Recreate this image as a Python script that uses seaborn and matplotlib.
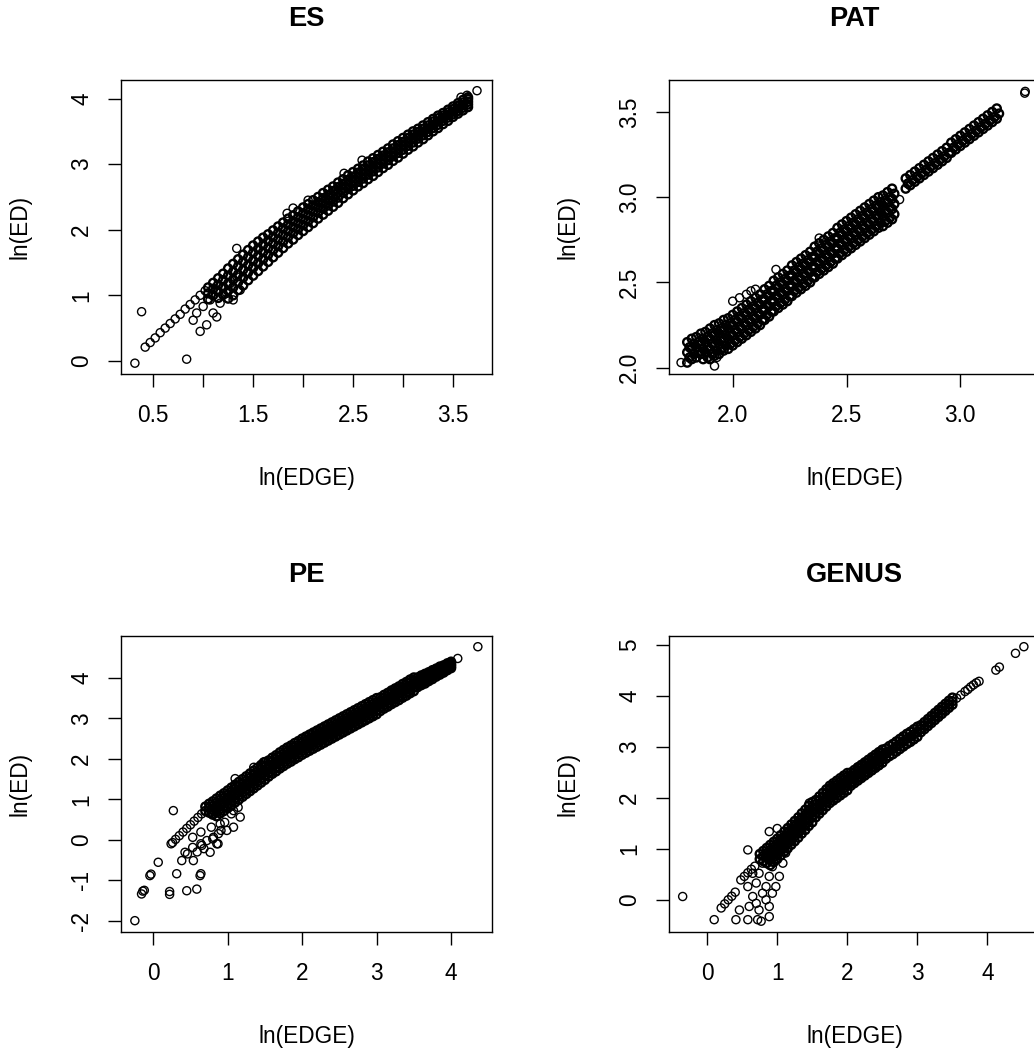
import matplotlib
matplotlib.use("Agg")
import matplotlib.pyplot as plt
import pandas as pd
import seaborn as sns

sns.set_style("ticks")
plt.rcParams['font.family'] = ['Liberation Sans', 'DejaVu Sans']
plt.rcParams.update({"text.color": "black", "axes.labelcolor": "black", "xtick.color": "black",
                     "ytick.color": "black", "axes.edgecolor": "black"})

# ---------------- ES ----------------
es_band_x = [1.05,1.10,1.15,1.20,1.25,1.30,1.35,1.40,1.45,1.50,1.55,1.60,1.65,1.70,1.75,1.80,1.85,1.90,1.95,2.00,
             2.05,2.10,2.15,2.20,2.25,2.30,2.35,2.40,2.45,2.50,2.55,2.60,2.65,2.70,2.75,2.80,2.85,2.90,2.95,3.00,
             3.05,3.10,3.15,3.20,3.25,3.30,3.35,3.40,3.45,3.50,3.55,3.60,3.65]
es_upper = [1.12,1.19,1.26,1.33,1.41,1.48,1.55,1.62,1.69,1.76,1.82,1.88,1.93,1.99,2.05,2.11,2.17,2.22,2.28,2.34,
            2.39,2.45,2.50,2.56,2.61,2.66,2.72,2.77,2.83,2.88,2.93,2.98,3.04,3.09,3.14,3.19,3.24,3.30,3.35,3.40,
            3.45,3.50,3.54,3.59,3.64,3.69,3.74,3.78,3.83,3.88,3.93,3.98,4.02]
es_q1 = [1.03,1.10,1.16,1.23,1.30,1.36,1.44,1.51,1.58,1.65,1.71,1.77,1.83,1.89,1.95,2.02,2.08,2.13,2.19,2.25,
         2.31,2.37,2.42,2.48,2.53,2.59,2.65,2.70,2.76,2.81,2.87,2.92,2.98,3.03,3.08,3.13,3.18,3.24,3.29,3.34,
         3.40,3.45,3.49,3.54,3.59,3.65,3.70,3.74,3.79,3.84,3.89,3.94,3.99]
es_mid = [0.94,1.00,1.06,1.12,1.18,1.24,1.32,1.39,1.46,1.53,1.60,1.66,1.72,1.79,1.85,1.92,1.98,2.04,2.10,2.16,
          2.22,2.28,2.34,2.40,2.45,2.51,2.57,2.63,2.69,2.74,2.80,2.85,2.91,2.96,3.01,3.07,3.12,3.18,3.23,3.28,
          3.34,3.39,3.44,3.49,3.54,3.60,3.65,3.70,3.75,3.80,3.85,3.90,3.95]
es_q3 = [0.85,0.90,0.96,1.01,1.07,1.12,1.20,1.27,1.35,1.42,1.49,1.55,1.62,1.69,1.75,1.82,1.89,1.95,2.01,2.07,
         2.13,2.19,2.26,2.32,2.37,2.43,2.49,2.56,2.62,2.67,2.73,2.78,2.84,2.89,2.95,3.01,3.06,3.12,3.17,3.22,
         3.28,3.33,3.39,3.44,3.49,3.55,3.60,3.66,3.71,3.76,3.81,3.86,3.91]
es_lower = [0.75,0.80,0.85,0.90,0.95,1.00,1.08,1.15,1.23,1.30,1.37,1.44,1.51,1.58,1.65,1.72,1.79,1.85,1.92,1.98,
            2.04,2.10,2.17,2.23,2.29,2.35,2.41,2.48,2.54,2.60,2.66,2.71,2.77,2.82,2.88,2.94,2.99,3.05,3.10,3.16,
            3.22,3.27,3.33,3.38,3.44,3.50,3.55,3.61,3.66,3.72,3.77,3.82,3.87]
es_line_x = [0.42,0.47,0.52,0.57,0.62,0.67,0.72,0.77,0.82,0.87,0.92,0.97,1.02]
es_line_y = [0.21,0.28,0.35,0.43,0.50,0.57,0.64,0.71,0.79,0.86,0.93,1.00,1.07]
es_other_x = [0.317,0.384,0.835,0.90,0.97,1.035,1.10,1.136,1.17,1.236,1.30,1.37,0.935,1.00,1.07,1.14,1.20,1.27,
              1.34,1.44,1.50,1.336,1.84,1.90,2.05,2.41,2.59,3.58,3.64,3.74]
es_other_y = [-0.035,0.75,0.026,0.62,0.45,0.55,0.73,0.67,0.88,1.03,0.93,1.08,0.73,0.83,0.93,1.08,1.13,1.18,
              1.28,1.33,1.44,1.715,2.25,2.33,2.45,2.86,3.06,4.02,4.05,4.12]

# ---------------- PAT ----------------
pat_band_x = [1.80,1.82,1.84,1.86,1.88,1.90,1.92,1.94,1.96,1.98,2.00,2.02,2.04,2.06,2.08,2.10,2.12,2.14,2.16,2.18,
              2.20,2.22,2.24,2.26,2.28,2.30,2.32,2.34,2.36,2.38,2.40,2.42,2.44,2.46,2.48,2.50,2.52,2.54,2.56,2.58,
              2.60,2.62,2.64,2.66,2.68,2.70]
pat_band_x2 = [1.81,1.83,1.85,1.87,1.89,1.91,1.93,1.95,1.97,1.99,2.01,2.03,2.05,2.07,2.09,2.11,2.13,2.15,2.17,2.19,
               2.21,2.23,2.25,2.27,2.29,2.31,2.33,2.35,2.37,2.39,2.41,2.43,2.45,2.47,2.49,2.51,2.53,2.55,2.57,2.59,
               2.61,2.63,2.65,2.67,2.69,2.71]
pat_upper = [2.15,2.17,2.18,2.20,2.21,2.23,2.25,2.26,2.28,2.29,2.31,2.33,2.35,2.37,2.39,2.41,2.43,2.46,2.48,2.51,
             2.53,2.55,2.57,2.60,2.62,2.64,2.66,2.68,2.71,2.73,2.75,2.77,2.79,2.82,2.84,2.86,2.88,2.90,2.92,2.94,
             2.96,2.98,3.00,3.01,3.03,3.05]
pat_q1 = [2.12,2.14,2.15,2.17,2.18,2.20,2.22,2.23,2.25,2.26,2.28,2.30,2.32,2.34,2.36,2.38,2.40,2.43,2.45,2.48,
          2.50,2.52,2.54,2.57,2.59,2.61,2.63,2.65,2.68,2.70,2.72,2.74,2.76,2.79,2.81,2.83,2.85,2.87,2.89,2.91,
          2.93,2.95,2.97,2.98,3.00,3.02]
pat_mid_a = [2.09,2.11,2.12,2.14,2.15,2.17,2.19,2.20,2.22,2.23,2.25,2.27,2.29,2.31,2.33,2.35,2.37,2.40,2.42,2.45,
             2.47,2.49,2.51,2.54,2.56,2.58,2.60,2.62,2.65,2.67,2.69,2.71,2.73,2.76,2.78,2.80,2.82,2.84,2.86,2.88,
             2.90,2.92,2.94,2.95,2.97,2.99]
pat_center = [2.06,2.08,2.09,2.11,2.12,2.14,2.16,2.17,2.19,2.20,2.22,2.24,2.26,2.28,2.30,2.32,2.34,2.37,2.39,2.42,
              2.44,2.46,2.48,2.51,2.53,2.55,2.57,2.59,2.62,2.64,2.66,2.68,2.70,2.73,2.75,2.77,2.79,2.81,2.83,2.85,
              2.87,2.89,2.91,2.92,2.94,2.96]
pat_mid_b = [2.03,2.05,2.06,2.08,2.09,2.11,2.13,2.14,2.16,2.17,2.19,2.21,2.23,2.25,2.27,2.29,2.31,2.34,2.36,2.39,
             2.41,2.43,2.45,2.48,2.50,2.52,2.54,2.56,2.59,2.61,2.63,2.65,2.67,2.70,2.72,2.74,2.76,2.78,2.80,2.82,
             2.84,2.86,2.88,2.89,2.91,2.93]
pat_q3 = [2.00,2.02,2.03,2.05,2.06,2.08,2.10,2.11,2.13,2.14,2.16,2.18,2.20,2.22,2.24,2.26,2.28,2.31,2.33,2.36,
          2.38,2.40,2.42,2.45,2.47,2.49,2.51,2.53,2.56,2.58,2.60,2.62,2.64,2.67,2.69,2.71,2.73,2.75,2.77,2.79,
          2.81,2.83,2.85,2.86,2.88,2.90]
pat_low_x = [1.90,1.92,1.94,1.96,1.98,2.00,2.02,2.04,2.06,2.08,2.10,2.12,2.14,2.16,2.18,2.20,2.22,2.24,2.26,2.28,
             2.30,2.32,2.34,2.36,2.38,2.40,2.42,2.44,2.46,2.48,2.50,2.52,2.54,2.56,2.58,2.60,2.62,2.64,2.66,2.68,2.70]
pat_lower = [2.05,2.07,2.08,2.10,2.11,2.13,2.15,2.17,2.19,2.21,2.23,2.25,2.28,2.30,2.33,2.35,2.37,2.39,2.42,2.44,
             2.46,2.48,2.50,2.53,2.55,2.57,2.59,2.61,2.64,2.66,2.68,2.70,2.72,2.74,2.76,2.78,2.80,2.82,2.83,2.85,2.87]
pat_seg_x = [2.76,2.78,2.80,2.82,2.84,2.86,2.88,2.90,2.92,2.94,2.96,2.98,3.00,3.02,3.04,3.06,3.08,3.10,3.12,3.14,3.16]
pat_seg_x2 = [2.77,2.79,2.81,2.83,2.85,2.87,2.89,2.91,2.93,2.95,2.97,2.99,3.01,3.03,3.05,3.07,3.09,3.11,3.13,3.15,3.17]
pat_seg_upper = [3.11,3.13,3.15,3.17,3.19,3.21,3.23,3.25,3.27,3.29,3.32,3.34,3.36,3.38,3.40,3.42,3.44,3.46,3.48,3.50,3.52]
pat_seg_mid = [3.08,3.10,3.12,3.14,3.16,3.18,3.20,3.22,3.24,3.26,3.29,3.31,3.33,3.35,3.37,3.39,3.41,3.43,3.45,3.47,3.49]
pat_seg_lower = [3.05,3.07,3.09,3.11,3.13,3.15,3.17,3.19,3.21,3.23,3.26,3.28,3.30,3.32,3.34,3.36,3.38,3.40,3.42,3.44,3.46]
pat_other_x = [1.773,1.92,1.93,2.00,2.03,2.06,2.08,2.10,2.19,2.38,2.733,3.283,3.285]
pat_other_y = [2.03,2.01,2.06,2.39,2.41,2.43,2.45,2.46,2.576,2.76,2.986,3.61,3.62]

# ---------------- PE ----------------
pe_band_x = [0.70,0.75,0.80,0.85,0.90,0.95,1.00,1.05,1.10,1.15,1.20,1.25,1.30,1.35,1.40,1.45,1.50,1.55,1.60,1.65,
             1.70,1.75,1.80,1.85,1.90,1.95,2.00,2.05,2.10,2.15,2.20,2.25,2.30,2.35,2.40,2.45,2.50,2.55,2.60,2.65,
             2.70,2.75,2.80,2.85,2.90,2.95,3.00,3.05,3.10,3.15,3.20,3.25,3.30,3.35,3.40,3.45,3.50,3.55,3.60,3.65,
             3.70,3.75,3.80,3.85,3.90,3.95,4.00]
pe_upper = [0.82,0.89,0.95,1.02,1.09,1.15,1.22,1.29,1.36,1.43,1.50,1.57,1.64,1.71,1.78,1.85,1.92,1.96,2.03,2.09,
            2.16,2.22,2.28,2.33,2.39,2.44,2.50,2.55,2.60,2.65,2.70,2.75,2.80,2.85,2.90,2.95,3.00,3.05,3.10,3.15,
            3.20,3.25,3.30,3.35,3.40,3.45,3.50,3.52,3.58,3.63,3.69,3.74,3.79,3.85,3.90,3.96,4.01,4.01,4.06,4.10,
            4.14,4.19,4.23,4.28,4.31,4.36,4.40]
pe_q1 = [0.71,0.78,0.84,0.91,0.98,1.04,1.11,1.18,1.25,1.32,1.39,1.46,1.53,1.60,1.67,1.74,1.81,1.86,1.93,1.99,
         2.06,2.12,2.18,2.23,2.29,2.34,2.40,2.45,2.50,2.55,2.60,2.65,2.70,2.75,2.80,2.85,2.90,2.95,3.00,3.05,
         3.10,3.15,3.20,3.25,3.30,3.35,3.40,3.44,3.50,3.55,3.61,3.66,3.71,3.77,3.82,3.88,3.93,3.95,4.00,4.04,
         4.09,4.14,4.18,4.23,4.27,4.32,4.36]
pe_mid = [0.60,0.67,0.73,0.80,0.87,0.93,1.00,1.07,1.14,1.21,1.28,1.35,1.42,1.49,1.56,1.63,1.70,1.76,1.83,1.89,
          1.96,2.02,2.08,2.13,2.19,2.24,2.30,2.35,2.40,2.45,2.50,2.55,2.60,2.65,2.70,2.75,2.80,2.85,2.90,2.95,
          3.00,3.05,3.10,3.15,3.20,3.25,3.30,3.35,3.41,3.46,3.52,3.57,3.62,3.68,3.73,3.79,3.84,3.89,3.94,3.98,
          4.03,4.08,4.13,4.18,4.22,4.27,4.32]
pe_q3 = [0.49,0.56,0.62,0.69,0.76,0.82,0.89,0.96,1.03,1.10,1.17,1.24,1.31,1.38,1.45,1.52,1.59,1.66,1.73,1.79,
         1.86,1.92,1.98,2.03,2.09,2.14,2.20,2.25,2.30,2.35,2.40,2.45,2.50,2.55,2.60,2.65,2.70,2.75,2.80,2.85,
         2.90,2.95,3.00,3.05,3.10,3.15,3.20,3.27,3.33,3.38,3.44,3.49,3.54,3.60,3.65,3.71,3.76,3.83,3.88,3.92,
         3.98,4.03,4.08,4.13,4.18,4.23,4.28]
pe_lower = [0.38,0.45,0.51,0.58,0.65,0.71,0.78,0.85,0.92,0.99,1.06,1.13,1.20,1.27,1.34,1.41,1.48,1.56,1.63,1.69,
            1.76,1.82,1.88,1.93,1.99,2.04,2.10,2.15,2.20,2.25,2.30,2.35,2.40,2.45,2.50,2.55,2.60,2.65,2.70,2.75,
            2.80,2.85,2.90,2.95,3.00,3.05,3.10,3.18,3.24,3.29,3.35,3.40,3.45,3.51,3.56,3.62,3.67,3.77,3.82,3.86,
            3.92,3.97,4.03,4.08,4.13,4.19,4.24]
pe_line_x = [0.24,0.26,0.30,0.35,0.40,0.45,0.50,0.55,0.60,0.65]
pe_line_y = [-0.10,-0.07,0.01,0.10,0.19,0.28,0.37,0.46,0.55,0.64]
pe_other_x = [-0.247,-0.157,-0.14,-0.12,-0.045,-0.03,0.067,0.22,0.22,0.27,0.315,0.383,0.427,0.45,0.46,0.53,0.539,
              0.53,0.585,0.59,0.629,0.64,0.64,0.64,0.652,0.68,0.72,0.764,0.78,0.78,0.80,0.809,0.854,0.87,0.876,
              0.899,0.91,0.91,0.96,0.989,1.05,1.078,1.078,1.14,1.168,1.10,1.35,1.48,1.89,3.86,4.0,4.09,4.36]
pe_other_y = [-2.0,-1.34,-1.27,-1.25,-0.886,-0.85,-0.557,-1.28,-1.35,0.72,-0.84,-0.515,-0.31,-1.26,-0.35,0.06,-0.515,
              -0.19,-1.22,-0.30,-0.886,0.19,-0.10,-0.84,-0.14,-0.22,-0.02,-0.31,0.31,0.64,0.02,0.06,-0.10,-0.10,0.15,
              0.39,0.23,0.72,0.43,0.23,0.64,0.31,0.72,0.80,0.56,1.51,1.79,1.92,2.29,4.27,4.39,4.48,4.77]

# ---------------- GENUS ----------------
ge_band_x = [0.75,0.80,0.85,0.90,0.95,1.00,1.05,1.10,1.15,1.20,1.25,1.30,1.35,1.40,1.45,1.50,1.55,1.60,1.65,1.70,
             1.75,1.80,1.85,1.90,1.95,2.00,2.05,2.10,2.15,2.20,2.25,2.30,2.35,2.40,2.45,2.50,2.55,2.60,2.65,2.70,
             2.75,2.80,2.85,2.90,2.95,3.00,3.05,3.10,3.15,3.20,3.25,3.30,3.35,3.40,3.45,3.50]
ge_upper = [0.90,0.96,1.02,1.08,1.14,1.20,1.27,1.34,1.41,1.48,1.55,1.62,1.70,1.77,1.85,1.92,1.96,2.03,2.10,2.17,
            2.24,2.29,2.34,2.39,2.44,2.49,2.50,2.55,2.60,2.65,2.70,2.75,2.80,2.85,2.90,2.95,2.97,3.02,3.06,3.11,
            3.16,3.21,3.26,3.30,3.35,3.40,3.43,3.49,3.55,3.61,3.67,3.73,3.79,3.85,3.91,3.97]
ge_mid = [0.70,0.76,0.82,0.88,0.94,1.00,1.07,1.14,1.21,1.28,1.35,1.42,1.50,1.57,1.65,1.72,1.79,1.86,1.93,2.00,
          2.07,2.12,2.17,2.22,2.27,2.32,2.37,2.42,2.47,2.52,2.57,2.62,2.67,2.72,2.77,2.82,2.87,2.92,2.96,3.01,
          3.06,3.11,3.16,3.20,3.25,3.30,3.36,3.42,3.48,3.54,3.60,3.66,3.72,3.78,3.84,3.90]
ge_lower = [0.50,0.56,0.62,0.68,0.74,0.80,0.87,0.94,1.01,1.08,1.15,1.22,1.30,1.37,1.45,1.52,1.62,1.69,1.76,1.83,
            1.90,1.95,2.00,2.05,2.10,2.15,2.24,2.29,2.34,2.39,2.44,2.49,2.54,2.59,2.64,2.69,2.77,2.82,2.86,2.91,
            2.96,3.01,3.06,3.10,3.15,3.20,3.29,3.35,3.41,3.47,3.53,3.59,3.65,3.71,3.77,3.83]
ge_q_x = [0.75,0.80,0.85,0.90,0.95,1.00,1.05,1.10,1.15,1.20,1.25,1.30,1.35,1.40,1.45,1.50,1.55,1.60,1.65,1.70,
          1.75,1.80,1.85,1.90,1.95,2.00,2.05,2.10,2.15,2.20,2.25,2.30,2.35,2.40,2.45,2.50]
ge_q1 = [0.80,0.86,0.92,0.98,1.04,1.10,1.17,1.24,1.31,1.38,1.45,1.52,1.60,1.67,1.75,1.82,1.88,1.95,2.02,2.09,
         2.16,2.21,2.26,2.31,2.36,2.41,2.44,2.49,2.54,2.59,2.64,2.69,2.74,2.79,2.84,2.89]
ge_q3 = [0.60,0.66,0.72,0.78,0.84,0.90,0.97,1.04,1.11,1.18,1.25,1.32,1.40,1.47,1.55,1.62,1.71,1.78,1.85,1.92,
         1.99,2.04,2.09,2.14,2.19,2.24,2.31,2.36,2.41,2.46,2.51,2.56,2.61,2.66,2.71,2.76]
ge_line_x = [0.10,0.20,0.25,0.30,0.35,0.40,0.48,0.53,0.58,0.63,0.68]
ge_line_y = [-0.39,-0.16,-0.08,0.0,0.07,0.15,0.39,0.46,0.53,0.60,0.66]
ge_other_x = [-0.35,0.41,0.58,0.72,0.77,0.46,0.60,0.74,0.886,0.65,0.79,0.93,0.58,0.70,0.84,0.98,0.74,0.886,1.03,
              0.79,0.93,1.08,1.12,0.98,0.65,0.84,0.70,0.886,0.58,0.886,1.00,1.457,1.74,2.15,3.31,3.56,3.62,3.68,
              3.72,3.76,3.80,3.84,3.88,4.12,4.17,4.40,4.52]
ge_other_y = [0.065,-0.39,-0.39,-0.39,-0.42,-0.20,-0.13,-0.20,-0.13,0.065,0.13,0.13,0.26,0.33,0.26,0.26,0.52,0.46,
              0.46,0.72,0.65,0.72,0.92,0.85,0.52,0.0,-0.07,-0.33,0.98,1.34,1.40,1.90,2.19,2.61,3.73,3.96,4.02,4.09,
              4.13,4.18,4.22,4.26,4.29,4.51,4.57,4.84,4.97]


def frame(parts):
    xs, ys = [], []
    for px, py in parts:
        xs += list(px)
        ys += list(py)
    return pd.DataFrame({"x": xs, "y": ys})


# the lowest tracks start a little later so each band tapers into its sparse tail
es_core = frame([(es_band_x, es_upper), (es_band_x, es_q1), (es_band_x, es_mid), (es_band_x[2:], es_q3[2:]),
                 (es_band_x[4:], es_lower[4:])])
es_rest = frame([(es_line_x, es_line_y), (es_other_x, es_other_y)])
pat_core = frame([(pat_band_x, pat_upper), (pat_band_x2, pat_q1), (pat_band_x, pat_mid_a),
                  (pat_band_x2, pat_center), (pat_band_x, pat_mid_b), (pat_band_x2[3:], pat_q3[3:]),
                  (pat_low_x, pat_lower), (pat_seg_x, pat_seg_upper), (pat_seg_x2, pat_seg_mid),
                  (pat_seg_x, pat_seg_lower)])
pat_rest = frame([(pat_other_x, pat_other_y)])
pe_core = frame([(pe_band_x, pe_upper), (pe_band_x, pe_q1), (pe_band_x[1:], pe_mid[1:]), (pe_band_x[2:], pe_q3[2:]),
                 (pe_band_x[3:], pe_lower[3:])])
pe_rest = frame([(pe_line_x, pe_line_y), (pe_other_x, pe_other_y)])
ge_core = frame([(ge_band_x, ge_upper), (ge_q_x, ge_q1), (ge_band_x[1:], ge_mid[1:]), (ge_q_x[2:], ge_q3[2:]),
                 (ge_band_x[3:], ge_lower[3:])])
ge_rest = frame([(ge_line_x, ge_line_y), (ge_other_x, ge_other_y)])

W, H = 1034, 1051
fig = plt.figure(figsize=(W / 100, H / 100), dpi=100)


def make_axes(left, top, right, bottom):
    return fig.add_axes([left / W, 1 - bottom / H, (right - left) / W, (bottom - top) / H])


panels = [
    dict(core=es_core, rest=es_rest, title="ES", box=(121, 80, 492, 374), xlim=(0.178, 3.89), ylim=(-0.2, 4.283),
         xticks=[0.5, 1.0, 1.5, 2.0, 2.5, 3.0, 3.5], xlabels=["0.5", "", "1.5", "", "2.5", "", "3.5"],
         yticks=[0, 1, 2, 3, 4], ylabels=["0", "1", "2", "3", "4"]),
    dict(core=pat_core, rest=pat_rest, title="PAT", box=(669, 80, 1040, 374), xlim=(1.72, 3.35),
         ylim=(1.963, 3.687), xticks=[2.0, 2.5, 3.0], xlabels=["2.0", "2.5", "3.0"],
         yticks=[2.0, 2.5, 3.0, 3.5], ylabels=["2.0", "2.5", "3.0", "3.5"]),
    dict(core=pe_core, rest=pe_rest, title="PE", box=(121, 636, 492, 932), xlim=(-0.433, 4.55), ylim=(-2.28, 5.035),
         xticks=[0, 1, 2, 3, 4], xlabels=["0", "1", "2", "3", "4"],
         yticks=[-2, -1, 0, 1, 2, 3, 4], ylabels=["-2", "-1", "0", "1", "2", "3", "4"]),
    dict(core=ge_core, rest=ge_rest, title="GENUS", box=(669, 636, 1040, 932), xlim=(-0.545, 4.75),
         ylim=(-0.632, 5.18), xticks=[0, 1, 2, 3, 4], xlabels=["0", "1", "2", "3", "4"],
         yticks=[0, 1, 2, 3, 4, 5], ylabels=["0", "1", "2", "3", "4", "5"]),
]

FS = 16.3
for p in panels:
    left, top, right, bottom = p["box"]
    ax = make_axes(left, top, right, bottom)
    sns.scatterplot(data=p["core"], x="x", y="y", ax=ax, marker="o", s=34,
                    facecolor="none", edgecolor="black", linewidth=1.7, legend=False)
    sns.scatterplot(data=p["rest"], x="x", y="y", ax=ax, marker="o", s=34,
                    facecolor="none", edgecolor="black", linewidth=1.0, legend=False)
    ax.set_xlim(*p["xlim"])
    ax.set_ylim(*p["ylim"])
    ax.set_xticks(p["xticks"])
    ax.set_xticklabels(p["xlabels"], fontsize=FS)
    ax.set_yticks(p["yticks"])
    ax.set_yticklabels(p["ylabels"], fontsize=FS, rotation=90, va="center")
    ax.tick_params(axis="both", direction="out", length=9.5, width=1.0, color="black", labelcolor="black")
    ax.tick_params(axis="x", pad=12)
    ax.tick_params(axis="y", pad=10.5)
    for sp in ax.spines.values():
        sp.set_visible(True)
        sp.set_color("black")
        sp.set_linewidth(1.0)
    hgt = bottom - top
    wid = right - left
    ax.set_xlabel("ln(EDGE)", fontsize=FS, color="black")
    ax.set_ylabel("ln(ED)", fontsize=FS, color="black")
    ax.xaxis.set_label_coords(0.5, -104 / hgt)
    ax.xaxis.label.set_va("center")
    ax.yaxis.set_label_coords(-101 / wid, 0.5)
    ax.yaxis.label.set_va("center")
    ax.set_title(p["title"], fontsize=19.6, fontweight="bold", y=1 + 53 / hgt, va="center", color="black")
    ax.grid(False)

fig.savefig("out.png", dpi=100, facecolor="white")
